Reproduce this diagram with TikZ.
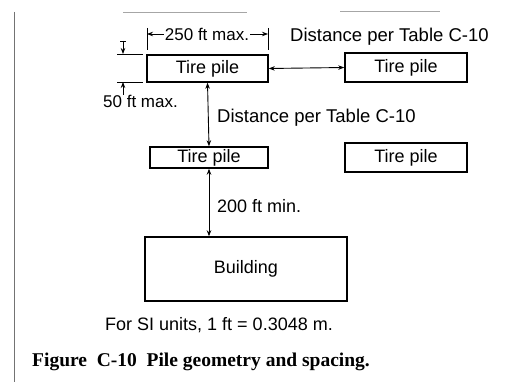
\documentclass[tikz,border=0pt]{standalone}
\usepackage{fontspec}
\setmainfont{Liberation Sans}
\newfontfamily\capfont{Liberation Serif}
\usetikzlibrary{arrows.meta}
\begin{document}
\begin{tikzpicture}[x=1pt,y=-1pt,
  pile/.style={draw,line width=1.5pt,inner sep=0pt,font=\fontsize{18}{20}\selectfont},
  lbl/.style={inner sep=0pt,font=\fontsize{17}{19}\selectfont},
  biglbl/.style={inner sep=0pt,font=\fontsize{18.5}{20}\selectfont},
  conn/.style={line width=0.9pt},
  both/.style={conn,{Stealth[length=6pt,width=4.5pt]}-{Stealth[length=6pt,width=4.5pt]}},
  one/.style={conn,-{Stealth[length=6pt,width=4.5pt]}},
  ext/.style={line width=0.9pt},
  scan/.style={line width=1pt,black!35}]
\useasboundingbox[fill=white] (0,0) rectangle (514,382);
% scan artefacts
\draw[scan] (123,13) -- (247,13);
\draw[scan] (340,12) -- (440,12);
\draw[line width=1pt,black!55] (14,12) -- (14,382);
% piles
\node[pile,minimum width=121pt,minimum height=27pt] (p1) at (207.5,68.5) {Tire pile};
\node[pile,minimum width=122pt,minimum height=29pt] (p2) at (406,67.5) {Tire pile};
\node[pile,minimum width=118pt,minimum height=21pt] (p3) at (209,157.5) {Tire pile};
\node[pile,minimum width=122pt,minimum height=29pt] (p4) at (406,157.5) {Tire pile};
\node[pile,minimum width=202pt,minimum height=64pt] (bld) at (246,269) {Building};
% connectors
\draw[both] (p1.east) -- (p2.west);
\draw[both] (p1.south) -- (p3.north);
\draw[both] (p3.south) -- (bld.north -| p3.south);
% 250 ft dimension
\coordinate (d1a) at (147,28); \coordinate (d1b) at (147,50);
\coordinate (d2a) at (268,28); \coordinate (d2b) at (268,50);
\draw[ext] (d1a) -- (d1b);
\draw[ext] (d2a) -- (d2b);
\coordinate (w1) at (147,34); \coordinate (w2) at (268,34);
\draw[both] (w1) -- (w2);
\node[lbl,fill=white,inner xsep=1pt] (t250) at (207,34) {250 ft max.};
% 50 ft dimension
\coordinate (e1a) at (117,54); \coordinate (e1b) at (143,54);
\coordinate (e2a) at (117,82); \coordinate (e2b) at (143,82);
\draw[ext] (e1a) -- (e1b);
\draw[ext] (e2a) -- (e2b);
\coordinate (h1) at (123,41); \coordinate (h1t) at (123,54);
\coordinate (h2) at (123,95); \coordinate (h2t) at (123,82);
\draw[one] (h1) -- (h1t);
\draw[one] (h2) -- (h2t);
\draw[ext] (120,41) -- (126,41);
% labels
\node[lbl,anchor=west] (t50) at (103,101) {50 ft max.};
\node[biglbl,anchor=west] (tdist1) at (290,37) {Distance per Table C-10};
\node[biglbl,anchor=west] (tdist2) at (217,118) {Distance per Table C-10};
\node[biglbl,anchor=west,font=\fontsize{18}{20}\selectfont] (t200) at (217,206) {200 ft min.};
\node[biglbl,font=\fontsize{18}{20}\selectfont] (tsi) at (219,325) {For SI units, 1 ft = 0.3048 m.};
\node[inner sep=0pt,font=\capfont\bfseries\fontsize{19.5}{21}\selectfont] (cap) at (201,362) {Figure\ \ C-10\ \ Pile geometry and spacing.};
\end{tikzpicture}
\end{document}
